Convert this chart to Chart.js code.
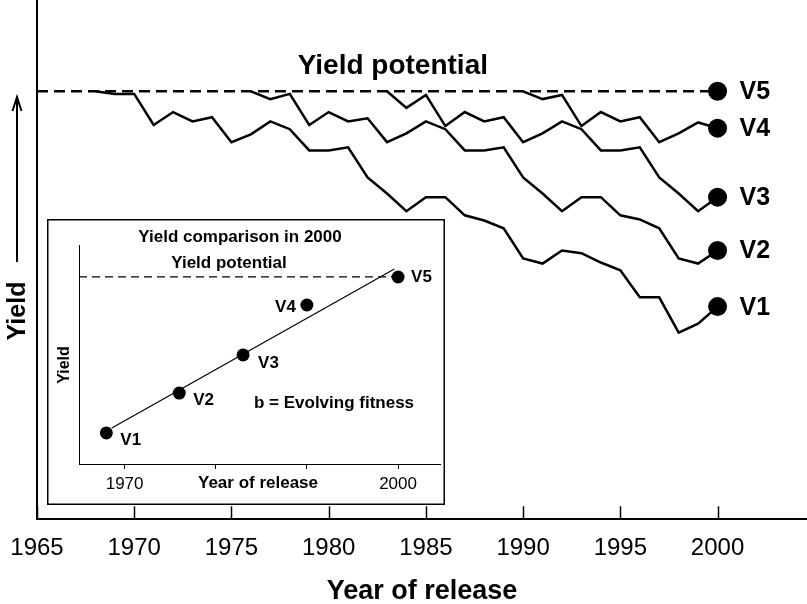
<!DOCTYPE html>
<html>
<head>
<meta charset="utf-8">
<script src="https://cdn.jsdelivr.net/npm/chart.js@4.4.1/dist/chart.umd.min.js"></script>
<style>
  body { margin: 0; background: #fff; }
  #wrap { position: relative; width: 807px; height: 604px; }
  #main { position: absolute; left: 0; top: 0; }
  #inset { position: absolute; left: 47px; top: 219px; }
</style>
</head>
<body>
<div id="wrap">
  <canvas id="main" width="807" height="604"></canvas>
  <canvas id="inset" width="398" height="286"></canvas>
</div>
<script>
const FONT = "'Liberation Sans', Arial, Helvetica, sans-serif";

// main chart - yield of each variety per year after its release
const yearTicks = [1965, 1970, 1975, 1980, 1985, 1990, 1995, 2000];
const yieldPotential = 82.4;
const varieties = ["V1", "V2", "V3", "V4", "V5"];
const releaseYears = [1968, 1976, 1983, 1990, 2000];
const v1Yield = [82.4, 81.9, 81.9, 75.9, 78.4, 76.6, 77.4, 72.6, 74.1, 76.6, 75.1, 71.0, 71.0, 71.6, 65.8, 62.7, 59.3,
                 62.0, 62.0, 58.5, 57.5, 56.0, 50.2, 49.2, 51.7, 51.2, 49.4, 47.9, 42.7, 42.7, 35.9, 37.6, 40.9];
const v2Yield = [82.4, 80.9, 81.9, 75.9, 78.4, 76.6, 77.2, 72.6, 74.3, 76.6, 75.1, 71.0, 71.0, 71.6, 65.8, 62.7, 59.3,
                 62.0, 62.0, 58.5, 57.7, 56.0, 50.2, 49.2, 51.7];
const v3Yield = [82.4, 79.2, 81.7, 75.7, 78.4, 76.6, 77.4, 72.6, 74.3, 76.6, 75.1, 71.0, 71.0, 71.6, 65.8, 62.7, 59.3, 62.0];
const v4Yield = [82.4, 80.9, 81.7, 75.7, 78.4, 76.6, 77.4, 72.6, 74.3, 76.4, 75.3];
const v5Yield = [82.4];

// inset - yield comparison in 2000
const insetTicks = [1970, 1980, 1990, 2000];
const insetLabeled = [1970, 2000];
const insetPotential = 85.4;
const insetYield = [14.2, 32.4, 49.8, 72.6, 85.4];
const fitYears = [1968.6, 1999.6];
const fitYield = [16.4, 89.0];

const allYields = [v1Yield, v2Yield, v3Yield, v4Yield, v5Yield];

function series(start, vals) {
  return vals.map((y, k) => ({ x: start + k, y: y }));
}

const varietyLines = allYields.slice(0, 4).map((vals, i) => ({
  data: series(releaseYears[i], vals),
  borderColor: "#000",
  backgroundColor: "#000",
  borderWidth: 2.5,
  pointRadius: c => (c.dataIndex === vals.length - 1 ? 9.5 : 0),
  pointBorderWidth: 0,
  tension: 0
}));

const mainDecor = {
  id: "mainDecor",
  afterDraw(chart) {
    const { ctx, scales: { x, y } } = chart;
    ctx.save();
    ctx.strokeStyle = "#000";
    ctx.fillStyle = "#000";
    // tick marks pointing into the plot
    ctx.lineWidth = 1.5;
    const base = y.getPixelForValue(0);
    yearTicks.forEach(t => {
      const px = Math.round(x.getPixelForValue(t)) + 0.5;
      ctx.beginPath();
      ctx.moveTo(px, base);
      ctx.lineTo(px, base - 12.5);
      ctx.stroke();
    });
    // yield potential caption
    ctx.font = "bold 28px " + FONT;
    ctx.textAlign = "center";
    ctx.textBaseline = "middle";
    ctx.fillText("Yield potential", x.getPixelForValue(1983.3), y.getPixelForValue(yieldPotential) - 25);
    // variety labels next to the 2000 dots
    ctx.font = "bold 25px " + FONT;
    ctx.textAlign = "left";
    varieties.forEach((v, i) => {
      const vals = allYields[i];
      ctx.fillText(v, x.getPixelForValue(2000) + 22, y.getPixelForValue(vals[vals.length - 1]) + 1);
    });
    // y title with arrow
    ctx.lineWidth = 2;
    ctx.beginPath();
    ctx.moveTo(17, 262);
    ctx.lineTo(17, 97);
    ctx.moveTo(12.5, 111);
    ctx.lineTo(17, 97);
    ctx.lineTo(21.5, 111);
    ctx.stroke();
    ctx.translate(17, 311);
    ctx.rotate(-Math.PI / 2);
    ctx.font = "bold 25px " + FONT;
    ctx.textAlign = "center";
    ctx.fillText("Yield", 0, 1);
    ctx.restore();
  }
};

new Chart(document.getElementById("main"), {
  type: "line",
  data: {
    datasets: [
      {
        data: [{ x: releaseYears[4], y: v5Yield[0] }],
        showLine: false,
        pointRadius: 9.5,
        pointBorderWidth: 0,
        backgroundColor: "#000"
      },
      ...varietyLines,
      {
        data: [{ x: yearTicks[0], y: yieldPotential }, { x: releaseYears[4], y: yieldPotential }],
        borderColor: "#000",
        borderWidth: 2.5,
        borderDash: [11, 6],
        pointRadius: 0
      }
    ]
  },
  options: {
    responsive: false,
    animation: false,
    layout: { autoPadding: false, padding: { left: 37, top: 0, right: 0, bottom: 0 } },
    plugins: { legend: { display: false }, tooltip: { enabled: false } },
    scales: {
      x: {
        type: "linear",
        min: 1965,
        max: 2004.6,
        afterBuildTicks: s => { s.ticks = yearTicks.map(v => ({ value: v })); },
        grid: { display: false, drawTicks: true, tickLength: 6 },
        border: { display: true, color: "#000", width: 2 },
        ticks: {
          color: "#000",
          font: { family: FONT, size: 24 },
          padding: 9,
          autoSkip: false,
          maxRotation: 0,
          callback: v => String(v)
        },
        title: {
          display: true,
          text: "Year of release",
          color: "#000",
          font: { family: FONT, size: 27, weight: "bold" },
          padding: { top: 4, bottom: -4 }
        }
      },
      y: {
        min: 0,
        max: 100,
        grid: { display: false, drawTicks: false },
        border: { display: true, color: "#000", width: 2 },
        ticks: { display: false }
      }
    }
  },
  plugins: [mainDecor]
});

const insetDecor = {
  id: "insetDecor",
  beforeDraw(chart) {
    const { ctx, width, height } = chart;
    ctx.save();
    ctx.fillStyle = "#fff";
    ctx.fillRect(0, 0, width, height);
    ctx.restore();
  },
  afterDraw(chart) {
    const { ctx, width, height, scales: { x, y } } = chart;
    ctx.save();
    ctx.strokeStyle = "#000";
    ctx.lineWidth = 1.5;
    ctx.strokeRect(0.75, 0.75, width - 1.5, height - 1.5);
    ctx.fillStyle = "#000";
    ctx.textBaseline = "middle";
    ctx.textAlign = "center";
    ctx.font = "bold 17px " + FONT;
    ctx.fillText("Yield comparison in 2000", 193, 18);
    ctx.fillText("Yield potential", 182, y.getPixelForValue(insetPotential) - 14);
    ctx.fillText("Year of release", 211, 264);
    ctx.fillText("b = Evolving fitness", 287, 184);
    // point labels
    const offs = [[14, 7], [14, 7], [15, 8], [-11, 2], [13, 0]];
    insetYield.forEach((v, i) => {
      ctx.textAlign = offs[i][0] < 0 ? "right" : "left";
      ctx.fillText(varieties[i], x.getPixelForValue(releaseYears[i]) + offs[i][0], y.getPixelForValue(v) + offs[i][1]);
    });
    ctx.translate(18, 146);
    ctx.rotate(-Math.PI / 2);
    ctx.textAlign = "center";
    ctx.font = "bold 16px " + FONT;
    ctx.fillText("Yield", 0, 0);
    ctx.restore();
  }
};

new Chart(document.getElementById("inset"), {
  type: "line",
  data: {
    datasets: [
      {
        data: releaseYears.map((yr, i) => ({ x: yr, y: insetYield[i] })),
        showLine: false,
        pointRadius: 6.5,
        pointBorderWidth: 0,
        backgroundColor: "#000"
      },
      {
        data: fitYears.map((yr, i) => ({ x: yr, y: fitYield[i] })),
        borderColor: "#000",
        borderWidth: 1.2,
        pointRadius: 0
      },
      {
        data: [{ x: 1965, y: insetPotential }, { x: releaseYears[4], y: insetPotential }],
        borderColor: "#000",
        borderWidth: 1.3,
        borderDash: [8, 5],
        pointRadius: 0
      }
    ]
  },
  options: {
    responsive: false,
    animation: false,
    layout: { autoPadding: false, padding: { left: 32, top: 26, right: 5, bottom: 5.6 } },
    plugins: { legend: { display: false }, tooltip: { enabled: false } },
    scales: {
      x: {
        type: "linear",
        min: 1965,
        max: 2004.6,
        afterBuildTicks: s => { s.ticks = insetTicks.map(v => ({ value: v })); },
        grid: { display: true, drawOnChartArea: false, drawTicks: true, tickLength: 5, color: "#000", lineWidth: 1 },
        border: { display: true, color: "#000", width: 1 },
        ticks: {
          color: "#000",
          font: { family: FONT, size: 17 },
          padding: 5,
          autoSkip: false,
          maxRotation: 0,
          callback: v => (insetLabeled.includes(v) ? String(v) : "")
        }
      },
      y: {
        min: 0,
        max: 100,
        grid: { display: false, drawTicks: false },
        border: { display: true, color: "#000", width: 1 },
        ticks: { display: false }
      }
    }
  },
  plugins: [insetDecor]
});
</script>
</body>
</html>
